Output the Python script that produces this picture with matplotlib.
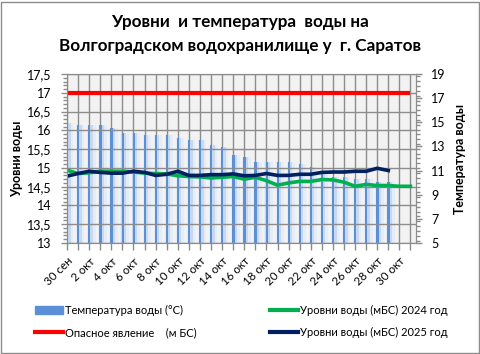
import numpy as np
import matplotlib
matplotlib.use('Agg')
import matplotlib.pyplot as plt
from matplotlib.lines import Line2D
from matplotlib.patches import Patch, Rectangle
from matplotlib.ticker import MultipleLocator, FuncFormatter

plt.rcParams['font.family'] = ['Lato', 'Liberation Sans', 'DejaVu Sans']

days = ['30 сен', '1 окт', '2 окт', '3 окт', '4 окт', '5 окт', '6 окт', '7 окт',
        '8 окт', '9 окт', '10 окт', '11 окт', '12 окт', '13 окт', '14 окт', '15 окт',
        '16 окт', '17 окт', '18 окт', '19 окт', '20 окт', '21 окт', '22 окт', '23 окт',
        '24 окт', '25 окт', '26 окт', '27 окт', '28 окт', '29 окт', '30 окт', '31 окт']

# water temperature, C (right axis)
temp = [14.9, 14.8, 14.8, 14.8, 14.5, 14.1, 14.1, 13.95, 13.95, 13.95,
        13.7, 13.5, 13.5, 13.1, 12.95, 12.3, 12.1, 11.7, 11.7, 11.7,
        11.7, 11.55, 11.3, 10.9, 10.5, 10.5, 10.3, 10.3, 10.05, 10.05]

# water levels, m BS (left axis)
lvl_2024 = [14.94, 14.85, 14.87, 14.91, 14.91, 14.91, 14.89, 14.86, 14.85, 14.84,
            14.79, 14.77, 14.76, 14.73, 14.75, 14.77, 14.70, 14.75, 14.66, 14.54,
            14.60, 14.64, 14.64, 14.69, 14.68, 14.62, 14.51, 14.56, 14.53, 14.53,
            14.51, 14.51]
lvl_2025 = [14.78, 14.85, 14.91, 14.88, 14.86, 14.86, 14.91, 14.88, 14.80, 14.83,
            14.91, 14.80, 14.80, 14.82, 14.82, 14.84, 14.79, 14.80, 14.85, 14.80,
            14.80, 14.83, 14.83, 14.88, 14.89, 14.89, 14.91, 14.91, 14.99, 14.93]
danger = [17.0] * len(days)

temp_ticks = [5, 7, 9, 11, 13, 15, 17, 19]

W, H = 481, 354
fig = plt.figure(figsize=(W / 100, H / 100), dpi=100)
fig.patches.append(Rectangle((1 / W, 1 / H), 1 - 3 / W, 1 - 3 / H, transform=fig.transFigure,
                             fill=False, edgecolor='#8c8c8c', linewidth=1))

x0, x1, y0, y1 = 67, 416, 74, 243
ax2 = fig.add_axes([x0 / W, 1 - y1 / H, (x1 - x0) / W, (y1 - y0) / H])
ax = ax2.twinx()
ax.yaxis.tick_left()
ax.yaxis.set_label_position('left')
ax2.yaxis.tick_right()
ax2.yaxis.set_label_position('right')
ax.set_zorder(ax2.get_zorder() + 1)
ax.patch.set_visible(False)
ax2.set_facecolor('#f2f2f2')

xt = np.arange(len(temp))
ax2.bar(xt + 0.2, np.array(temp) - 5, bottom=5, width=0.75, color='#e3ebf7', alpha=0.85, linewidth=0)
ax2.bar(xt + 0.12, np.array(temp) - 5, bottom=5, width=0.42, color='#c2d5ee', alpha=0.85, linewidth=0)
ax2.bar(xt + 0.02, np.array(temp) - 5, bottom=5, width=0.2, color='#5b8fd6', linewidth=0)

xd = np.arange(len(days))
ax.plot(xd, danger, color='#ff0000', linewidth=3, solid_capstyle='butt')
ax.plot(xd, lvl_2024, color='#00b050', linewidth=2.6)
ax.plot(np.arange(len(lvl_2025)), lvl_2025, color='#002060', linewidth=2.6)

ax.set_xlim(0, 31.5)
ax.set_ylim(13, 17.5)
ax2.set_ylim(5, 19)
ax.yaxis.set_major_locator(MultipleLocator(0.5))
ax.yaxis.set_minor_locator(MultipleLocator(0.1))
ax.yaxis.set_major_formatter(FuncFormatter(lambda v, p: ('%g' % v).replace('.', ',')))
ax2.set_yticks(temp_ticks)
ax2.yaxis.set_minor_locator(MultipleLocator(0.4))

ax2.set_xticks(xd)
ax2.set_xticklabels([d if i % 2 == 0 else '' for i, d in enumerate(days)],
                    rotation=45, ha='right', rotation_mode='anchor')
ax.grid(True, axis='y', color='#8c8c8c', linewidth=1)
ax2.grid(True, axis='x', color='#8c8c8c', linewidth=1)
ax2.set_axisbelow(True)

for a in (ax, ax2):
    for s in a.spines.values():
        s.set_color('#8c8c8c')
    a.tick_params(which='both', colors='#8c8c8c', labelcolor='black', labelsize=9, width=1)
    a.tick_params(which='major', length=4, pad=7)
    a.tick_params(which='minor', length=3)
ax2.tick_params(axis='x', length=5, pad=4, labelsize=8.3)

ax.set_ylabel('Уровни воды', fontsize=9, fontweight='bold', labelpad=3)
ax2.set_ylabel('Температура воды', fontsize=9, fontweight='bold', labelpad=6)

fig.text(0.5, 1 - 22 / H, 'Уровни  и температура  воды на', ha='center', va='center',
         fontsize=12.3, fontweight='bold')
fig.text(0.5, 1 - 46 / H, 'Волгоградском водохранилище у  г. Саратов', ha='center', va='center',
         fontsize=12.3, fontweight='bold')

h1 = [Patch(color='#5b8fd6'), Line2D([], [], color='#ff0000', linewidth=3)]
h2 = [Line2D([], [], color='#00b050', linewidth=3), Line2D([], [], color='#002060', linewidth=3)]
leg_kw = dict(loc='upper left', frameon=False, fontsize=8, handlelength=2.5, handleheight=0.8,
              handletextpad=0.2, labelspacing=1.0, borderpad=0, borderaxespad=0)
fig.legend(h1, ['Температура воды (°С)', 'Опасное явление    (м БС)'],
           bbox_to_anchor=(35 / W, 1 - 305 / H), **leg_kw)
fig.legend(h2, ['Уровни воды (мБС) 2024 год', 'Уровни воды (мБС) 2025 год'],
           bbox_to_anchor=(270 / W, 1 - 305 / H), **leg_kw)

fig.savefig('out.png', dpi=100)
